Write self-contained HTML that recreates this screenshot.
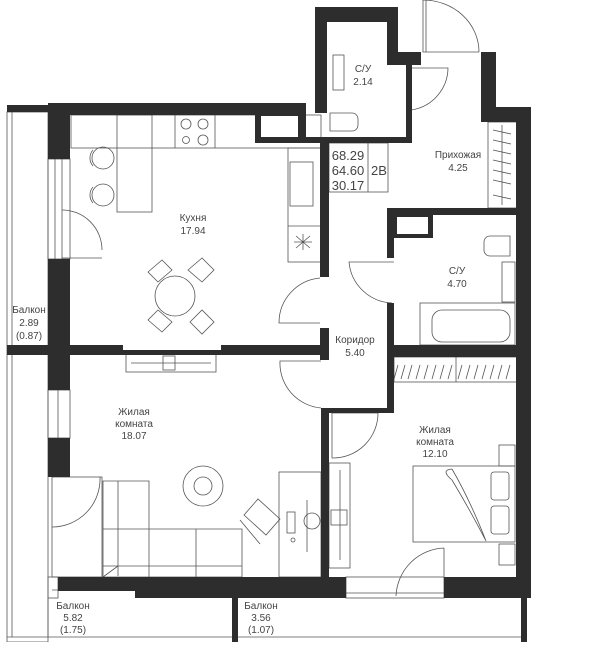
<!DOCTYPE html>
<html><head><meta charset="utf-8"><style>
html,body{margin:0;padding:0;background:#fff;}
.t{font-family:"Liberation Sans",sans-serif;fill:#444;font-size:10px;text-anchor:middle;}
.b{font-size:13px;}
</style></head><body>
<svg width="600" height="642" viewBox="0 0 600 642" xmlns="http://www.w3.org/2000/svg">
<g fill="none" stroke="#555" stroke-width="0.8">
<rect x="7" y="112" width="41" height="530"/>
<line x1="12" y1="112" x2="12" y2="637"/>
<line x1="7" y1="637" x2="527" y2="637"/>
<line x1="48" y1="598" x2="48" y2="637"/>
<rect x="71" y="115" width="250" height="33"/>
<rect x="117" y="115" width="35" height="97"/>
<line x1="175" y1="115" x2="175" y2="148"/><line x1="215" y1="115" x2="215" y2="148"/>
<circle cx="186" cy="124" r="5"/><circle cx="203" cy="124" r="5"/><circle cx="186" cy="140" r="3.5"/><circle cx="203" cy="140" r="5"/>
<rect x="288" y="148" width="33" height="114"/>
<rect x="290" y="162" width="23" height="44"/>
<line x1="288" y1="226" x2="321" y2="226"/>
<path d="M296 236 l14 12 M296 248 l14 -12 M303 234 v16 M294 242 h18"/>
<circle cx="103" cy="158" r="11"/><circle cx="103" cy="195" r="11"/>
<path d="M93 150 a12 12 0 0 0 0 16 M93 187 a12 12 0 0 0 0 16"/>
<circle cx="175" cy="296" r="20"/>
<path d="M148 272 l14 -12 l10 10 l-14 12 z M188 270 l14 -12 l12 12 l-12 12 z M148 320 l14 12 l10 -10 l-14 -12 z M190 322 l12 12 l12 -12 l-12 -12 z"/>
<rect x="48" y="159" width="22" height="100"/><line x1="55" y1="159" x2="55" y2="259"/><line x1="62" y1="159" x2="62" y2="259"/>
<path d="M62 210 A40 40 0 0 1 102 250 M62 258 H102"/>
<path d="M320 278 A45 45 0 0 0 279 323 H320"/>
<rect x="333" y="55" width="11" height="35"/>
<path d="M330 113 h22 a6 6 0 0 1 6 6 v6 a6 6 0 0 1 -6 6 h-22 z"/>
<path d="M411 68 H448 A43 43 0 0 1 411 110"/>
<path d="M423 0 V52 H479 M426 0 V52 M423 0 A56 52 0 0 1 479 52"/>
<rect x="329" y="143" width="59" height="49"/><line x1="368" y1="143" x2="368" y2="192"/>
<rect x="488" y="122" width="29" height="86"/>
<path d="M493 130 l18 4 M493 140 l18 4 M493 150 l18 4 M493 160 l18 4 M493 170 l18 4 M493 180 l18 4 M493 195 l18 4 M502 125 v80"/>
<path d="M490 236 h20 v20 h-20 a6 6 0 0 1 -6 -6 v-8 a6 6 0 0 1 6 -6 z"/>
<rect x="502" y="262" width="13" height="40"/>
<rect x="420" y="303" width="95" height="42"/>
<rect x="432" y="310" width="78" height="32" rx="10"/>
<path d="M394 262 H349 A45 45 0 0 0 392 303"/>
<rect x="126" y="352" width="90" height="20"/><line x1="131" y1="363" x2="211" y2="363"/><rect x="163" y="356" width="12" height="14"/>
<path d="M321 361 H280 A45 45 0 0 0 321 408"/>
<rect x="48" y="390" width="22" height="48"/><line x1="58" y1="390" x2="58" y2="438"/>
<rect x="52" y="477" width="50" height="100"/><path d="M52 527 A48 48 0 0 0 100 477"/>
<path d="M103 481 H149 V529 H242 V577 H103 Z M103 529 H149 M118 481 V576 M149 529 V577 M196 529 V577 M103 566 H242 M118 566 L103 577"/>
<circle cx="203" cy="486" r="20"/><circle cx="203" cy="486" r="9"/>
<path d="M244 515 l14 -16 l22 20 l-14 16 z M240 520 l20 24"/>
<rect x="279" y="472" width="42" height="105"/>
<rect x="287" y="512" width="8" height="21"/><path d="M307 500 v52"/><circle cx="312" cy="521" r="8"/><circle cx="293" cy="540" r="2"/>
<path d="M332 413 H378 A45 45 0 0 1 332 458 Z"/>
<rect x="329" y="463" width="21" height="105"/><line x1="340" y1="470" x2="340" y2="560"/><rect x="331" y="510" width="16" height="15"/>
<rect x="394" y="357" width="123" height="25"/><line x1="456" y1="357" x2="456" y2="382"/>
<path d="M398 365 l-4 14 M405 365 l-4 14 M412 365 l-4 14 M420 365 l-4 14 M428 365 l-4 14 M436 365 l-4 14 M444 365 l-4 14 M452 365 l-4 14 M462 365 l-4 14 M470 365 l-4 14 M478 365 l-4 14 M486 365 l-4 14 M494 365 l-4 14 M502 365 l-4 14 M510 365 l-4 14"/>
<rect x="413" y="466" width="102" height="76"/>
<path d="M452 469 Q470 500 486 541 M452 469 Q440 470 452 480 Q470 510 486 541"/>
<rect x="491" y="472" width="18" height="28" rx="3"/><rect x="491" y="506" width="18" height="28" rx="3"/>
<rect x="499" y="445" width="16" height="21"/><rect x="499" y="544" width="16" height="21"/>
<path d="M444 548 V577 M444 548 A50 50 0 0 0 396 596"/>
<rect x="346" y="577" width="98" height="21"/><line x1="346" y1="593" x2="444" y2="593"/>
<rect x="48" y="577" width="10" height="21"/><line x1="52" y1="590" x2="135" y2="590"/>
</g>
<g fill="#2d2d2d">
<rect x="7" y="105" width="41" height="7"/>
<rect x="48" y="103" width="257" height="12"/>
<rect x="48" y="103" width="22" height="56"/>
<rect x="48" y="259" width="22" height="96"/>
<rect x="7" y="345" width="314" height="10"/>
<rect x="123" y="345" width="98" height="5" fill="#fff"/>
<rect x="48" y="355" width="22" height="35"/>
<rect x="48" y="438" width="22" height="39"/>
<rect x="315" y="7" width="83" height="15"/>
<rect x="315" y="7" width="12" height="106"/>
<rect x="387" y="7" width="11" height="58"/>
<rect x="387" y="52" width="34" height="13"/>
<rect x="406" y="65" width="6" height="78"/>
<rect x="255" y="103" width="51" height="40"/>
<rect x="261" y="116" width="37" height="21" fill="#fff"/>
<rect x="255" y="137" width="157" height="6"/>
<rect x="320" y="143" width="9" height="134"/>
<rect x="320" y="328" width="9" height="32"/>
<rect x="321" y="408" width="8" height="190"/>
<rect x="329" y="408" width="65" height="5"/>
<rect x="387" y="208" width="144" height="7"/>
<rect x="387" y="208" width="7" height="50"/>
<rect x="387" y="303" width="7" height="110"/>
<rect x="392" y="213" width="41" height="25"/><rect x="397" y="217" width="31" height="17" fill="#fff"/>
<rect x="387" y="345" width="144" height="12"/>
<rect x="481" y="52" width="15" height="70"/>
<rect x="481" y="107" width="50" height="15"/>
<rect x="516" y="107" width="15" height="491"/>
<rect x="58" y="577" width="288" height="14"/>
<rect x="135" y="577" width="211" height="21"/>
<rect x="444" y="577" width="87" height="21"/>
<rect x="232" y="598" width="6" height="44"/>
<rect x="521" y="598" width="6" height="44"/>
</g>
<text class="t" x="363" y="72">С/У</text><text class="t" x="363" y="85">2.14</text>
<text class="t" x="458" y="158">Прихожая</text><text class="t" x="458" y="171">4.25</text>
<text class="t b" x="348" y="160">68.29</text><text class="t b" x="348" y="175">64.60</text><text class="t b" x="348" y="190">30.17</text><text class="t b" x="379" y="175">2В</text>
<text class="t" x="193" y="221">Кухня</text><text class="t" x="193" y="234">17.94</text>
<text class="t" x="457" y="274">С/У</text><text class="t" x="457" y="287">4.70</text>
<text class="t" x="29" y="313">Балкон</text><text class="t" x="29" y="326">2.89</text><text class="t" x="29" y="339">(0.87)</text>
<text class="t" x="355" y="343">Коридор</text><text class="t" x="355" y="356">5.40</text>
<text class="t" x="134" y="415">Жилая</text><text class="t" x="134" y="427">комната</text><text class="t" x="134" y="439">18.07</text>
<text class="t" x="435" y="433">Жилая</text><text class="t" x="435" y="445">комната</text><text class="t" x="435" y="457">12.10</text>
<text class="t" x="73" y="609">Балкон</text><text class="t" x="73" y="621">5.82</text><text class="t" x="73" y="633">(1.75)</text>
<text class="t" x="261" y="609">Балкон</text><text class="t" x="261" y="621">3.56</text><text class="t" x="261" y="633">(1.07)</text>
</svg>
</body></html>
